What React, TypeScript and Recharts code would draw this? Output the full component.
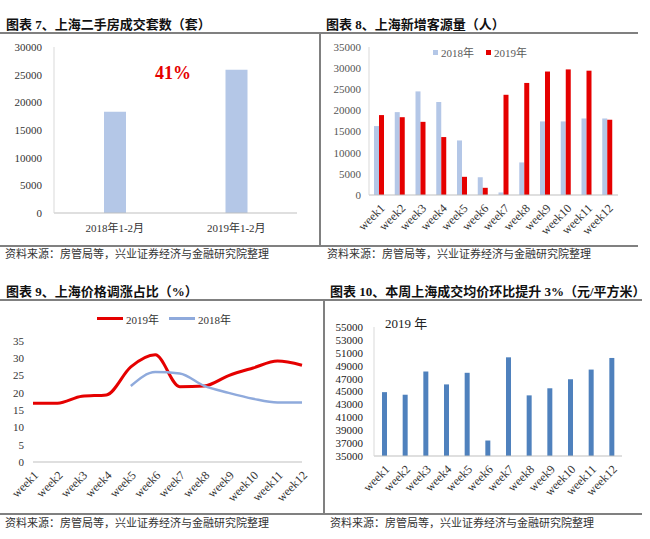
import React from "react"
import { BarChart, Bar, LineChart, Line, XAxis, YAxis, Legend } from "recharts"

const SERIF = '"Liberation Serif", "Noto Sans CJK SC", serif'
const CJK = '"Noto Sans CJK SC", sans-serif'

// 图表7
const periods = ["2018年1-2月", "2019年1-2月"]
const dealCounts = [18300, 25900]
const dealTicks = [0, 5000, 10000, 15000, 20000, 25000, 30000]

// 图表8 / 9 / 10 共用
const weeks = ["week1", "week2", "week3", "week4", "week5", "week6", "week7", "week8", "week9", "week10", "week11", "week12"]

// 图表8
const clients2018 = [16300, 19600, 24500, 22000, 12900, 4200, 600, 7700, 17400, 17400, 18100, 18100]
const clients2019 = [18900, 18400, 17300, 13700, 4300, 1700, 23700, 26500, 29200, 29700, 29400, 17800]
const clientTicks = [0, 5000, 10000, 15000, 20000, 25000, 30000, 35000]

// 图表9
const rise2019 = [17, 17, 19, 19.4, 27.5, 31, 21.8, 22, 25, 27.2, 29.2, 28]
const rise2018 = [null, null, null, null, 22, 26, 25.6, 22, 20, 18.3, 17.2, 17.2]
const riseTicks = [0, 5, 10, 15, 20, 25, 30, 35]

// 图表10
const avgPrice2019 = [44900, 44500, 48100, 46100, 47900, 37400, 50300, 44400, 45500, 46900, 48400, 50200]
const priceTicks = [35000, 37000, 39000, 41000, 43000, 45000, 47000, 49000, 51000, 53000, 55000]

const dealRows = periods.map((p, i) => ({ period: p, count: dealCounts[i] }))
const clientRows = weeks.map((w, i) => ({ week: w, y2018: clients2018[i], y2019: clients2019[i] }))
const riseRows = weeks.map((w, i) => ({ week: w, y2019: rise2019[i], y2018: rise2018[i] }))
const priceRows = weeks.map((w, i) => ({ week: w, price: avgPrice2019[i] }))

const LIGHT_BLUE = "#b4c7e7"
const RED = "#e50000"
const LINE_BLUE = "#8faadc"
const BAR_BLUE = "#4f81bd"
const BORDER = "#808080"
const AXIS = "#bfbfbf"

const tickStyle = { fontSize: 11, fill: "#333", fontFamily: SERIF }
const weekTick = { fontSize: 12, fill: "#333", fontFamily: SERIF }

const abs = (left: number, top: number): React.CSSProperties => ({ position: "absolute", left, top })

function Title({ x, y, text }: { x: number; y: number; text: string }) {
  return (
    <div style={{ ...abs(x, y), fontSize: 13, fontWeight: 700, fontFamily: SERIF, color: "#111", whiteSpace: "nowrap", lineHeight: "16px" }}>
      {text}
    </div>
  )
}

function Source({ x, y }: { x: number; y: number }) {
  return (
    <div style={{ ...abs(x, y), fontSize: 11, fontFamily: CJK, color: "#333", whiteSpace: "nowrap", lineHeight: "14px" }}>
      资料来源：房管局等，兴业证券经济与金融研究院整理
    </div>
  )
}

function HLine({ x, y, w }: { x: number; y: number; w: number }) {
  return <div style={{ ...abs(x, y), width: w, height: 1.5, background: BORDER }} />
}

function VLine({ x, y, h }: { x: number; y: number; h: number }) {
  return <div style={{ ...abs(x, y), width: 1.5, height: h, background: BORDER }} />
}

function SquareLegend() {
  const item = (color: string, label: string) => (
    <span style={{ display: "inline-flex", alignItems: "center", marginRight: 12 }}>
      <span style={{ width: 5, height: 5, background: color, marginRight: 3 }} />
      {label}
    </span>
  )
  return (
    <div style={{ fontSize: 11, fontFamily: SERIF, color: "#595959", whiteSpace: "nowrap" }}>
      {item(LIGHT_BLUE, "2018年")}
      {item(RED, "2019年")}
    </div>
  )
}

function LineLegend() {
  const item = (color: string, label: string) => (
    <span style={{ display: "inline-flex", alignItems: "center", marginRight: 10 }}>
      <span style={{ width: 26, height: 3, background: color, marginRight: 3 }} />
      {label}
    </span>
  )
  return (
    <div style={{ fontSize: 11, fontFamily: SERIF, color: "#333", whiteSpace: "nowrap" }}>
      {item(RED, "2019年")}
      {item(LINE_BLUE, "2018年")}
    </div>
  )
}

export default function App() {
  return (
    <div style={{ position: "absolute", left: 0, top: 0, width: 650, height: 539, background: "#fff", overflow: "hidden" }}>
      <Title x={6} y={17} text="图表 7、上海二手房成交套数（套）" />
      <Title x={326} y={17} text="图表 8、上海新增客源量（人）" />
      <Title x={6} y={284} text="图表 9、上海价格调涨占比（%）" />
      <Title x={330} y={284} text="图表 10、本周上海成交均价环比提升 3%（元/平方米）" />

      <HLine x={0} y={32} w={638} />
      <VLine x={319} y={32} h={213} />
      <HLine x={0} y={245} w={638} />
      <HLine x={0} y={299} w={642} />
      <VLine x={323} y={299} h={214} />
      <HLine x={0} y={513} w={642} />

      <Source x={5} y={246} />
      <Source x={327} y={246} />
      <Source x={5} y={515} />
      <Source x={330} y={515} />

      <div style={abs(0, 0)}>
        <BarChart width={320} height={260} data={dealRows} margin={{ top: 47, right: 23, bottom: 17, left: 0 }}>
          <XAxis dataKey="period" tick={tickStyle} axisLine={{ stroke: AXIS }} tickLine={false} tickMargin={5} height={30} />
          <YAxis domain={[0, 30000]} ticks={dealTicks} tick={tickStyle} axisLine={{ stroke: "#d9d9d9" }} tickLine={false} tickMargin={6} width={54} />
          <Bar dataKey="count" fill={LIGHT_BLUE} barSize={22} isAnimationActive={false} />
        </BarChart>
      </div>
      <div style={{ ...abs(155, 62), fontSize: 18, fontWeight: 700, color: RED, fontFamily: SERIF, lineHeight: "22px" }}>41%</div>

      <div style={abs(320, 0)}>
        <BarChart width={330} height={260} data={clientRows} margin={{ top: 47, right: 32, bottom: 12, left: 0 }} barGap={0}>
          <XAxis dataKey="week" tick={weekTick} axisLine={{ stroke: AXIS }} tickLine={false} interval={0} angle={-45} textAnchor="end" height={53} />
          <YAxis domain={[0, 35000]} ticks={clientTicks} tick={{ ...tickStyle, fill: "#555" }} axisLine={{ stroke: "#d9d9d9" }} tickLine={false} tickMargin={2} width={49} />
          <Legend verticalAlign="middle" align="center" layout="horizontal" content={() => <SquareLegend />} wrapperStyle={{ top: 44, left: 113, width: "auto" }} />
          <Bar dataKey="y2018" name="2018年" fill={LIGHT_BLUE} barSize={5} isAnimationActive={false} />
          <Bar dataKey="y2019" name="2019年" fill={RED} barSize={5} isAnimationActive={false} />
        </BarChart>
      </div>

      <div style={abs(0, 270)}>
        <LineChart width={320} height={240} data={riseRows} margin={{ top: 71, right: 18, bottom: 8, left: 0 }}>
          <XAxis dataKey="week" tick={weekTick} axisLine={{ stroke: AXIS }} tickLine={false} interval={0} angle={-45} textAnchor="end" height={40} />
          <YAxis domain={[0, 35]} ticks={riseTicks} tick={tickStyle} axisLine={false} tickLine={false} tickMargin={3} width={33} />
          <Legend verticalAlign="middle" align="center" layout="horizontal" content={() => <LineLegend />} wrapperStyle={{ top: 40, left: 97, width: "auto" }} />
          <Line dataKey="y2019" name="2019年" type="monotone" stroke={RED} strokeWidth={3} dot={false} isAnimationActive={false} />
          <Line dataKey="y2018" name="2018年" type="monotone" stroke={LINE_BLUE} strokeWidth={2.5} dot={false} connectNulls={false} isAnimationActive={false} />
        </LineChart>
      </div>

      <div style={abs(320, 270)}>
        <BarChart width={330} height={240} data={priceRows} margin={{ top: 57, right: 28, bottom: 8, left: 0 }}>
          <XAxis dataKey="week" tick={weekTick} axisLine={{ stroke: AXIS }} tickLine={false} interval={0} angle={-45} textAnchor="end" height={46} />
          <YAxis domain={[35000, 55000]} ticks={priceTicks} tick={{ ...tickStyle, fill: "#222" }} axisLine={{ stroke: "#d9d9d9" }} tickLine={false} tickMargin={5} width={54} interval={0} allowDataOverflow />
          <Bar dataKey="price" fill={BAR_BLUE} barSize={5} isAnimationActive={false} />
        </BarChart>
      </div>
      <div style={{ ...abs(385, 313), fontSize: 13, fontFamily: SERIF, color: "#222", whiteSpace: "nowrap" }}>2019 年</div>
    </div>
  )
}
